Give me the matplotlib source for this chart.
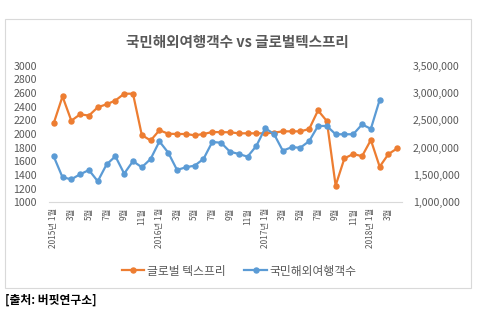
import matplotlib
matplotlib.use('Agg')
import matplotlib.pyplot as plt
from matplotlib.patches import Rectangle

plt.rcParams['font.family'] = ['Noto Sans CJK KR', 'DejaVu Sans']

# 2015년 1월 ~ 2018년 4월 (월별)
years = [2015] * 12 + [2016] * 12 + [2017] * 12 + [2018] * 4
months = list(range(1, 13)) * 3 + [1, 2, 3, 4]

# 글로벌 텍스프리 (왼쪽 축)
texfree = [2157, 2550, 2195, 2288, 2270, 2391, 2435, 2490, 2590, 2590,
           1985, 1905, 2055, 2004, 2000, 2000, 1981, 2000, 2029, 2027,
           2025, 2010, 2010, 2010, 2010, 2019, 2039, 2039, 2039, 2073,
           2345, 2190, 1245, 1644, 1707, 1675, 1912, 1521, 1707, 1790]

# 국민해외여행객수 (오른쪽 축), 2018년 3,4월은 없음
travelers = [1840000, 1458000, 1421000, 1513000, 1590000, 1385000, 1692000, 1842000,
             1525000, 1753000, 1641000, 1793000, 2115000, 1908000, 1592000, 1641000,
             1671000, 1793000, 2104000, 2090000, 1927000, 1885000, 1835000, 2031000,
             2355000, 2251000, 1945000, 2007000, 2000000, 2120000, 2397000, 2397000,
             2245000, 2245000, 2245000, 2425000, 2345000, 2874000]

left_ticks = list(range(1000, 3001, 200))
right_ticks = list(range(1000000, 3500001, 500000))

orange = '#ED7D31'
blue = '#5B9BD5'
gray = '#595959'

x_labels = []
for i, (y, m) in enumerate(zip(years, months)):
    if m % 2 == 0:
        continue
    if m == 1:
        x_labels.append((i, f'{y}년 {m}월'))
    else:
        x_labels.append((i, f'{m}월'))

fig = plt.figure(figsize=(4.81, 3.31), dpi=100)

# 차트 테두리
fig.patches.append(Rectangle((5 / 481, 43 / 331), 466 / 481, 269 / 331,
                             transform=fig.transFigure, fill=False,
                             edgecolor='#D9D9D9', linewidth=0.8))

ax = fig.add_axes([49.3 / 481, 128.7 / 331, 352.4 / 481, 136.6 / 331])
ax2 = ax.twinx()

xs = list(range(len(texfree)))
l1, = ax.plot(xs, texfree, color=orange, linewidth=1.6, marker='o',
              markersize=3.6, label='글로벌 텍스프리')
l2, = ax2.plot(list(range(len(travelers))), travelers, color=blue, linewidth=1.6,
               marker='o', markersize=3.6, label='국민해외여행객수')

ax.set_xlim(-0.5, len(texfree) - 0.5)
ax.set_ylim(1000, 3000)
ax2.set_ylim(1000000, 3500000)
ax.set_yticks(left_ticks)
ax.set_yticklabels([str(v) for v in left_ticks])
ax2.set_yticks(right_ticks)
ax2.set_yticklabels([f'{v:,}' for v in right_ticks])

ax.set_xticks([p for p, _ in x_labels])
ax.set_xticklabels([t for _, t in x_labels], rotation=90, fontsize=6,
                   color=gray, va='top', ha='center')

for a in (ax, ax2):
    for s in a.spines.values():
        s.set_visible(False)
    a.tick_params(length=0, colors=gray)
ax.spines['bottom'].set_visible(True)
ax.spines['bottom'].set_color('#D9D9D9')
ax.tick_params(axis='y', labelsize=7.6, pad=9)
ax.tick_params(axis='x', pad=4)
ax2.tick_params(axis='y', labelsize=7.6, pad=8)

fig.text(237.5 / 481, 1 - 42 / 331, '국민해외여행객수 vs 글로벌텍스프리',
         ha='center', va='center', fontsize=10.5, fontweight='bold', color=gray)

fig.legend(handles=[l1, l2], loc='center', bbox_to_anchor=(239 / 481, 1 - 271 / 331),
           ncol=2, frameon=False, fontsize=8.5, handlelength=1.9,
           handletextpad=0.2, columnspacing=1.6, labelcolor=gray)

fig.text(5 / 481, 1 - 300 / 331, '[출처: 버핏연구소]', ha='left', va='center',
         fontsize=8.5, fontweight='bold', color='black')

fig.savefig('out.png', dpi=100)
